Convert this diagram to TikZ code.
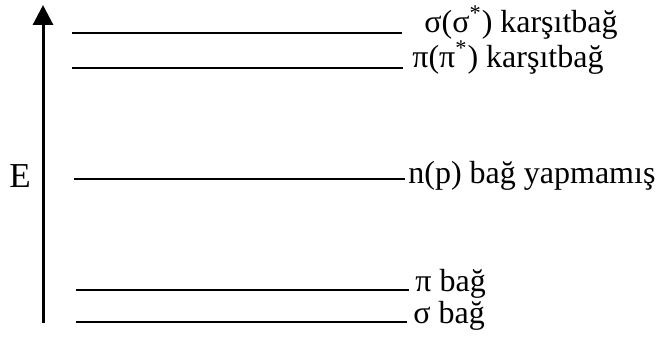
\documentclass[tikz,border=0pt]{standalone}
\usepackage{fontspec}
\setmainfont{Liberation Serif}
\usetikzlibrary{arrows.meta}
\tikzset{enline/.style={line width=1.1pt},
  enlabel/.style={anchor=base west, inner sep=0pt, font=\fontsize{16}{19}\selectfont}}
\begin{document}
\begin{tikzpicture}[x=0.5pt,y=-0.5pt]
        \useasboundingbox (0,0) rectangle (659,341);
        % energy axis
        \coordinate (Ebot) at (43,323);
        \coordinate (Etop) at (43,5);
        \draw[line width=1.5pt,-{Triangle[width=10pt,length=10pt]}] (Ebot) -- (Etop);
        \node[font=\fontsize{17.5}{20}\selectfont] (E) at (20,176) {E};
        % levels
        \coordinate (s1) at (72,33);  \coordinate (e1) at (402,33);
        \coordinate (s2) at (72,68);  \coordinate (e2) at (403,68);
        \coordinate (s3) at (74,179); \coordinate (e3) at (405,179);
        \coordinate (s4) at (76,290); \coordinate (e4) at (409,290);
        \coordinate (s5) at (76,322); \coordinate (e5) at (407,322);
        \draw[enline] (s1) -- (e1);
        \draw[enline] (s2) -- (e2);
        \draw[enline] (s3) -- (e3);
        \draw[enline] (s4) -- (e4);
        \draw[enline] (s5) -- (e5);
        \node[enlabel] (l1) at (424,33) {σ(σ\textsuperscript{*}) karşıtbağ};
        \node[enlabel] (l2) at (412,68) {π(π\textsuperscript{*}) karşıtbağ};
        \node[enlabel] (l3) at (408,184) {n(p) bağ yapmamış};
        \node[enlabel] (l4) at (415,292) {π bağ};
        \node[enlabel] (l5) at (413,324) {σ bağ};
    \end{tikzpicture}
\end{document}
